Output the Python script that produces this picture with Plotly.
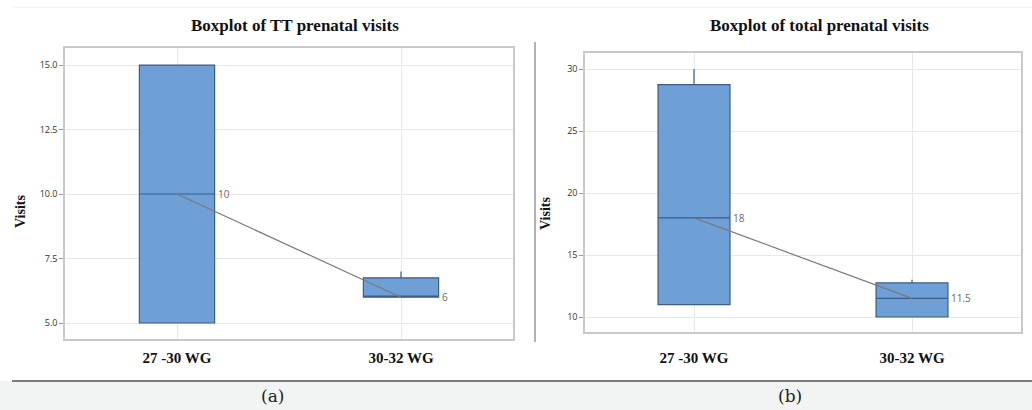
import plotly.graph_objects as go

W, H = 1032, 410

# Groups (weeks of gestation)
groups = ["27 -30 WG", "30-32 WG"]

# Panel (a): TT prenatal visits
tt_q1 = [5, 6]
tt_median = [10, 6]
tt_q3 = [15, 6.75]
tt_low = [5, 6]
tt_high = [15, 7]
tt_ticks = [5.0, 7.5, 10.0, 12.5, 15.0]

# Panel (b): total prenatal visits
tot_q1 = [11, 10]
tot_median = [18, 11.5]
tot_q3 = [28.75, 12.75]
tot_low = [11, 10]
tot_high = [30, 13]
tot_ticks = [10, 15, 20, 25, 30]

BOX_FILL = "#6e9fd6"
BOX_LINE = "#3d5c86"
GRID = "#e8e8e8"
FRAME = "#c9c9c9"
SERIF = "Liberation Serif"
SANS = "Open Sans"


def px_x(p):
    return p / W


def px_y(p):
    return 1 - p / H


fig = go.Figure()


def add_panel(xa, ya, q1, med, q3, lo, hi, width, half_px):
    fig.add_trace(go.Box(
        x=groups, q1=q1, median=med, q3=q3, lowerfence=lo, upperfence=hi,
        width=width, whiskerwidth=0, fillcolor=BOX_FILL,
        line=dict(color=BOX_LINE, width=1.2), boxpoints=False,
        hoverinfo="skip", xaxis=xa, yaxis=ya, showlegend=False,
    ))
    # line joining the medians
    fig.add_trace(go.Scatter(
        x=groups, y=med, mode="lines", line=dict(color="#7a7a7a", width=1.2),
        hoverinfo="skip", xaxis=xa, yaxis=ya, showlegend=False,
    ))
    # median value labels
    for g, m in zip(groups, med):
        fig.add_annotation(
            x=g, y=m, xref=xa, yref=ya, text=f"{m:g}", showarrow=False,
            xanchor="left", yanchor="middle", xshift=half_px + 1,
            font=dict(family=SANS, size=10, color="#6a6a6a"),
        )


add_panel("x", "y", tt_q1, tt_median, tt_q3, tt_low, tt_high, 0.336, 37.5)
add_panel("x2", "y2", tot_q1, tot_median, tot_q3, tot_low, tot_high, 0.33, 36)

xcommon = dict(
    type="category", range=[-0.5, 1.5], showgrid=True, gridcolor=GRID,
    showline=True, mirror=True, linecolor=FRAME, linewidth=1.5,
    ticks="", zeroline=False,
    tickfont=dict(family=SERIF, size=15, color="#111", weight="bold"),
)
ycommon = dict(
    showgrid=True, gridcolor=GRID, showline=True, mirror=True,
    linecolor=FRAME, linewidth=1.5, ticks="outside", ticklen=4,
    tickcolor="#999", zeroline=False,
    tickfont=dict(family=SANS, size=9, color="#333"),
)

fig.update_layout(
    width=W, height=H, margin=dict(l=0, r=0, t=0, b=0),
    paper_bgcolor="white", plot_bgcolor="white",
    xaxis=dict(**xcommon, domain=[px_x(65), px_x(513)], anchor="y",
               ticklabelstandoff=4),
    yaxis=dict(**ycommon, domain=[px_y(339), px_y(48)], anchor="x",
               range=[4.38, 15.66], tickvals=tt_ticks,
               ticktext=[f"{v:.1f}" for v in tt_ticks]),
    xaxis2=dict(**xcommon, domain=[px_x(585), px_x(1021)], anchor="y2",
                ticklabelstandoff=11),
    yaxis2=dict(**ycommon, domain=[px_y(332), px_y(53)], anchor="x2",
                range=[8.79, 31.3], tickvals=tot_ticks,
                ticktext=[str(v) for v in tot_ticks]),
)

# Titles and axis labels
title_font = dict(family=SERIF, size=17, color="#111")
fig.add_annotation(x=px_x(295), y=px_y(25), xref="paper", yref="paper",
                   xanchor="center", yanchor="middle",
                   text="<b>Boxplot of TT prenatal visits</b>", showarrow=False,
                   font=title_font)
fig.add_annotation(x=px_x(819), y=px_y(25), xref="paper", yref="paper",
                   xanchor="center", yanchor="middle",
                   text="<b>Boxplot of total prenatal visits</b>", showarrow=False,
                   font=title_font)
for xp, yp in [(20, 212), (545, 214)]:
    fig.add_annotation(x=px_x(xp), y=px_y(yp), xref="paper", yref="paper",
                       xanchor="center", yanchor="middle",
                       text="<b>Visits</b>", showarrow=False, textangle=-90,
                       font=dict(family=SERIF, size=14, color="#111"))

# Caption strip with panel letters
fig.add_shape(type="rect", xref="paper", yref="paper", x0=0, x1=1,
              y0=0, y1=px_y(381), fillcolor="#f2f4f4", line_width=0, layer="below")
fig.add_shape(type="line", xref="paper", yref="paper", x0=px_x(12), x1=1,
              y0=px_y(381), y1=px_y(381), line=dict(color="#555", width=1.5))
fig.add_shape(type="line", xref="paper", yref="paper", x0=px_x(12), x1=1,
              y0=px_y(7), y1=px_y(7), line=dict(color="#eeeeee", width=1))
fig.add_shape(type="line", xref="paper", yref="paper", x0=px_x(535), x1=px_x(535),
              y0=px_y(42), y1=px_y(342), line=dict(color="#999", width=1.5))
for xp, lab in [(272, "(a)"), (790, "(b)")]:
    fig.add_annotation(x=px_x(xp), y=px_y(396), xref="paper", yref="paper",
                       xanchor="center", yanchor="middle",
                       text=lab, showarrow=False,
                       font=dict(family="DejaVu Serif", size=17, color="#222"))

fig.write_html("out.html")
